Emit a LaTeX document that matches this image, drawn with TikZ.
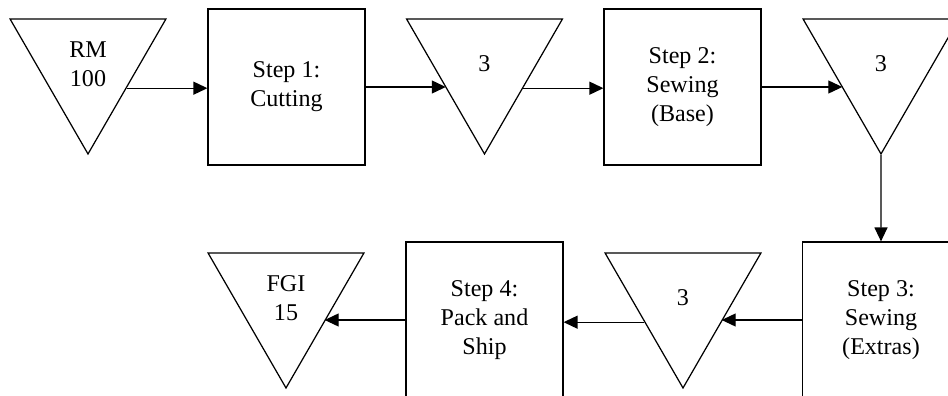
\documentclass[tikz,border=0pt]{standalone}
\usepackage{fontspec}
\setmainfont{Liberation Serif}
\usepackage{tikz}
\usetikzlibrary{arrows.meta,shapes.geometric,positioning,calc}

\tikzset{
	inv/.style={draw, regular polygon, regular polygon sides=3, shape border rotate=180,
		minimum size=3.6cm, inner sep=0pt, align=center, line width=0.7pt},
	stepbox/.style={draw, rectangle, minimum width=3.14cm, minimum height=3.12cm,
		inner sep=0pt, align=center, line width=0.7pt},
	flow/.style={-{Triangle[length=2.8mm,width=2.6mm]}, line width=0.7pt}
}

\begin{document}
\begin{tikzpicture}[x=0.02cm, y=-0.02cm, font=\fontsize{13.7}{16.4}\selectfont]
		\useasboundingbox (0, 0) rectangle (948, 396);
		\clip (0, 0) rectangle (948, 396);

		% top row
		\node[inv] (rm) at (88, 64) {RM\\100};
		\node[stepbox] (cut) at (286.5, 87) {Step 1:\\Cutting};
		\node[inv] (wip1) at (484.5, 64) {3};
		\node[stepbox] (sewbase) at (682.5, 87) {Step 2:\\Sewing\\(Base)};
		\node[inv] (wip2) at (881, 64) {3};

		% bottom row
		\node[stepbox] (sewextra) at (881, 320) {Step 3:\\Sewing\\(Extras)};
		\node[inv] (wip3) at (683, 298) {3};
		\node[stepbox] (pack) at (484.5, 320) {Step 4:\\Pack and\\Ship};
		\node[inv] (fgi) at (286, 298) {FGI\\15};

		\draw[flow] (rm.-32) -- (rm.-32 -| cut.west);
		\draw[flow] (cut.east) -- (cut.east -| wip1.212);
		\draw[flow] (wip1.-32) -- (wip1.-32 -| sewbase.west);
		\draw[flow] (sewbase.east) -- (sewbase.east -| wip2.212);
		\draw[flow] (wip2.south) -- (sewextra.north);
		\draw[flow] (sewextra.west) -- (sewextra.west -| wip3.-32);
		\draw[flow] (wip3.212) -- (wip3.212 -| pack.east);
		\draw[flow] (pack.west) -- (pack.west -| fgi.-32);
\end{tikzpicture}
\end{document}
